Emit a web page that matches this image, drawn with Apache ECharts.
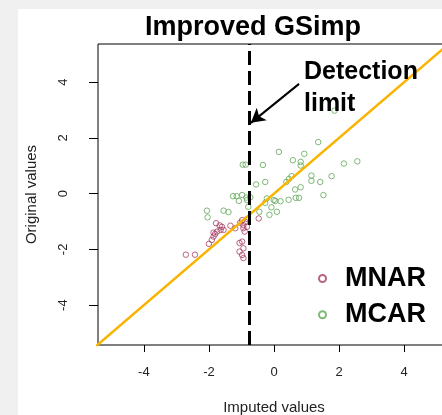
<!DOCTYPE html>
<html><head><meta charset="utf-8">
<script src="https://cdn.jsdelivr.net/npm/echarts@6/dist/echarts.min.js"></script>
<style>
html,body{margin:0;padding:0;overflow:hidden;background:#f0f0f0;width:442px;height:415px}
#c{width:450px;height:415px}
</style>
</head><body><div id="c"></div>
<script>
// ---- data ----
const mnarX = [-2.71,-2.43,-2.00,-1.91,-1.86,-1.81,-1.78,-1.67,-1.60,-1.55,-1.64,-1.75,-1.86,-1.34,-1.19,-0.98,-0.94,-0.88,-0.94,-0.83,-1.04,-0.90,-0.47,-0.98,-1.06,-0.94,-1.06,-0.98,-0.94,-0.82];
const mnarY = [-2.19,-2.19,-1.80,-1.66,-1.54,-1.45,-1.06,-1.14,-1.19,-1.30,-1.30,-1.36,-1.40,-1.15,-1.24,-0.95,-1.13,-1.01,-1.24,-1.19,-1.04,-1.36,-0.89,-1.72,-1.77,-1.96,-2.08,-2.20,-2.31,-0.91];
const mcarX = [1.86,1.36,0.15,0.93,0.58,0.82,0.82,2.15,2.56,-0.34,-0.96,-0.87,1.77,1.15,1.15,1.42,0.54,0.46,0.38,-0.27,-0.55,0.82,0.65,1.52,0.67,0.77,0.45,0.20,-0.01,0.04,-0.22,-0.27,-0.08,-0.14,-0.45,-1.26,-1.15,-1.08,-0.85,-0.83,-0.98,-2.06,-2.04,-1.55,-1.40,0.09,-0.73,-0.79];
const mcarY = [2.98,1.85,1.50,1.43,1.20,1.14,1.01,1.08,1.16,1.03,1.04,1.04,0.63,0.65,0.46,0.42,0.63,0.53,0.42,0.42,0.33,0.23,0.15,-0.05,-0.15,-0.15,-0.22,-0.27,-0.23,-0.26,-0.17,-0.33,-0.49,-0.76,-0.65,-0.09,-0.09,-0.26,-0.14,-0.23,-0.05,-0.61,-0.85,-0.61,-0.66,-0.65,-0.13,-0.47];
const tickValues = [-4, -2, 0, 2, 4];
const xRange = [-5.41, 5.41];
const yRange = [-5.43, 5.37];
const identityEnds = [-5.5, 5.5];
const detectionLimit = -0.76;
const arrowFrom = [0.77, 3.94];
const arrowTo = [-0.71, 2.54];
const seriesNames = ['MNAR', 'MCAR'];

const FONT = '"Liberation Sans", Arial, sans-serif';
const RED = '#a83d62';
const GREEN = '#5fa656';

const chart = echarts.init(document.getElementById('c'), null, {renderer: 'canvas'});
chart.setOption({
  backgroundColor: '#f0f0f0',
  animation: false,
  title: {
    text: 'Improved GSimp', left: 145, top: 14, padding: 0,
    textStyle: {fontFamily: FONT, fontSize: 27, fontWeight: 'bold', color: '#000', lineHeight: 27}
  },
  graphic: [
    {type: 'rect', left: 18, top: 9, z: -10, silent: true,
     shape: {width: 432, height: 406}, style: {fill: '#ffffff'}},
    {type: 'text', left: 304, top: 56, z: 10, silent: true,
     style: {text: 'Detection\nlimit', font: 'bold 25px ' + FONT, fill: '#000', lineHeight: 32}}
  ],
  legend: {
    data: seriesNames, orient: 'vertical', left: 318, top: 265, padding: 0,
    itemWidth: 7, itemHeight: 7, itemGap: 9.2,
    itemStyle: {borderWidth: 2},
    textStyle: {fontFamily: FONT, fontSize: 27, fontWeight: 'bold', color: '#000', lineHeight: 27, padding: [0,0,0,14]}
  },
  grid: {left: 98, right: 0, top: 44, bottom: 70, outerBoundsMode: 'none', containLabel: false,
         show: true, borderColor: '#000', borderWidth: 1, backgroundColor: '#fff'},
  xAxis: {
    type: 'value', min: xRange[0], max: xRange[1],
    axisLine: {show: false, onZero: false},
    axisTick: {show: true, length: 7, customValues: tickValues, lineStyle: {color: '#000'}},
    axisLabel: {customValues: tickValues, fontFamily: FONT, fontSize: 13, color: '#222', margin: 21},
    splitLine: {show: false},
    name: 'Imputed values', nameLocation: 'middle', nameGap: 55,
    nameTextStyle: {fontFamily: FONT, fontSize: 15, color: '#222'}
  },
  yAxis: {
    type: 'value', min: yRange[0], max: yRange[1],
    axisLine: {show: false, onZero: false},
    axisTick: {show: true, length: 9, customValues: tickValues, lineStyle: {color: '#000'}},
    axisLabel: {customValues: tickValues, rotate: 90, fontFamily: FONT, fontSize: 13, color: '#222', margin: 28},
    splitLine: {show: false},
    name: 'Original values', nameLocation: 'middle', nameGap: 59,
    nameTextStyle: {fontFamily: FONT, fontSize: 15, color: '#222'}
  },
  series: [
    {
      name: 'identity', type: 'line', silent: true, showSymbol: false, clip: true, z: 3,
      data: identityEnds.map(v => [v, v]),
      lineStyle: {color: '#F8B400', width: 2.5},
      markLine: {
        silent: true, symbol: ['none', 'arrow'], symbolSize: [12, 14],
        label: {show: false},
        lineStyle: {color: '#000', width: 2, type: 'solid'},
        data: [[{coord: arrowFrom}, {coord: arrowTo}]]
      }
    },
    {
      name: seriesNames[1], type: 'scatter', symbol: 'circle', symbolSize: 5.5, z: 2,
      data: mcarX.map((x, i) => [x, mcarY[i]]),
      itemStyle: {color: 'rgba(0,0,0,0)', borderColor: GREEN, borderWidth: 1},
      markLine: {
        silent: true, symbol: 'none', label: {show: false},
        lineStyle: {color: '#000', width: 3, type: [14, 6]},
        data: [{xAxis: detectionLimit}]
      }
    },
    {
      name: seriesNames[0], type: 'scatter', symbol: 'circle', symbolSize: 5.5, z: 2,
      data: mnarX.map((x, i) => [x, mnarY[i]]),
      itemStyle: {color: 'rgba(0,0,0,0)', borderColor: RED, borderWidth: 1}
    }
  ]
});
</script>
</body></html>
